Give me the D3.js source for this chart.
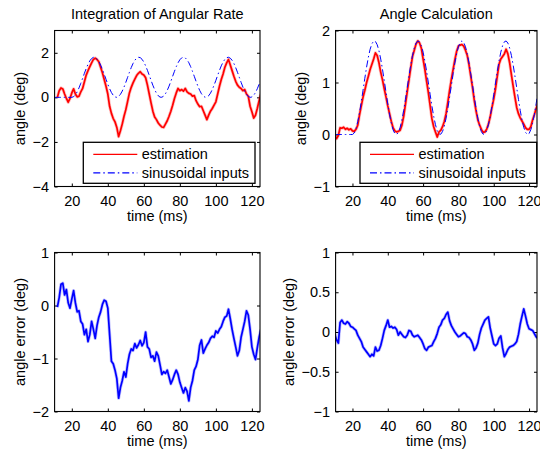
<!DOCTYPE html>
<html>
<head>
<meta charset="utf-8">
<script src="https://cdn.jsdelivr.net/npm/d3@7"></script>
<style>
  body { margin: 0; background: #fff; }
  svg { display: block; font-family: "Liberation Sans", Arial, Helvetica, sans-serif; }
  .tick line { stroke: #000; }
  .tick text { fill: #000; font-size: 14.5px; }
</style>
</head>
<body>
<div id="chart"></div>
<script>
// sample times (ms)
const timeIn = d3.range(10, 126);   // 10 .. 125
const timeL = d3.range(12, 126);    // 12 .. 125
const timeR = d3.range(10, 126);    // 10 .. 125

// sinusoidal input (deg), same in both top panels
const inputDeg = [
  0, 0, 0, 0, 0, 0, 0, 0, 0, 0,
  0, 0.029, 0.113, 0.248, 0.424, 0.631, 0.854, 1.081, 1.296, 1.486,
  1.639, 1.744, 1.795, 1.790, 1.727, 1.612, 1.450, 1.255, 1.036, 0.809,
  0.588, 0.386, 0.217, 0.092, 0.018, 0.001, 0.041, 0.136, 0.279, 0.462,
  0.675, 0.900, 1.125, 1.336, 1.520, 1.664, 1.759, 1.799, 1.782, 1.708,
  1.583, 1.414, 1.212, 0.991, 0.764, 0.545, 0.350, 0.188, 0.073, 0.010,
  0.005, 0.056, 0.161, 0.314, 0.504, 0.719, 0.946, 1.169, 1.376, 1.552,
  1.687, 1.771, 1.800, 1.771, 1.687, 1.552, 1.376, 1.169, 0.946, 0.719,
  0.504, 0.314, 0.161, 0.056, 0.005, 0.010, 0.073, 0.188, 0.350, 0.545,
  0.764, 0.991, 1.212, 1.414, 1.583, 1.708, 1.782, 1.799, 1.759, 1.664,
  1.520, 1.336, 1.125, 0.900, 0.675, 0.462, 0.279, 0.136, 0.041, 0.001,
  0.018, 0.092, 0.217, 0.386, 0.588, 0.809
];

// estimation by integration of angular rate (deg), t = 12..125
const estL = [
  0.00, 0.30, 0.42, 0.38, 0.15, -0.05, -0.22, -0.05,
  0.20, 0.38, 0.15, 0.02, 0.05, 0.25, 0.40, 0.70, 1.00, 1.20,
  1.38, 1.55, 1.70, 1.76, 1.70, 1.60, 1.35, 1.10, 0.80, 0.50,
  0.15, -0.40, -0.72, -0.95, -1.10, -1.35, -1.76, -1.50, -1.20, -0.85,
  -0.55, -0.18, 0.20, 0.45, 0.65, 0.82, 0.98, 1.08, 1.15, 1.05,
  1.00, 0.88, 0.55, 0.15, -0.25, -0.62, -0.88, -1.00, -1.15, -1.25,
  -1.33, -1.35, -1.20, -1.05, -0.85, -0.62, -0.35, -0.05, 0.20, 0.40,
  0.30, 0.35, 0.28, 0.40, 0.25, 0.18, 0.15, 0.05, 0.08, -0.15,
  -0.30, -0.42, -0.40, -0.60, -0.80, -1.00, -0.80, -0.62, -0.50, -0.35,
  -0.20, 0.15, 0.50, 0.80, 1.05, 1.35, 1.55, 1.70, 1.45, 1.20,
  0.95, 0.72, 0.55, 0.45, 0.40, 0.30, 0.35, 0.15, 0.05, -0.40,
  -0.65, -0.93, -0.80, -0.50, -0.15, 0.15
];

// estimation by angle calculation (deg), t = 10..125
const estR = [
  -0.02, -0.08, -0.02, 0.13, 0.12, 0.14, 0.10, 0.12, 0.09, 0.11,
  0.07, 0.06, 0.10, 0.18, 0.38, 0.55, 0.72, 0.85, 1.00, 1.12,
  1.25, 1.35, 1.45, 1.57, 1.52, 1.38, 1.20, 1.05, 0.88, 0.72,
  0.55, 0.40, 0.25, 0.13, 0.07, 0.05, 0.06, 0.08, 0.18, 0.35,
  0.58, 0.82, 1.05, 1.28, 1.50, 1.62, 1.74, 1.80, 1.76, 1.66,
  1.45, 1.25, 1.02, 0.80, 0.55, 0.30, 0.15, 0.05, -0.05, 0.05,
  0.08, 0.15, 0.25, 0.40, 0.62, 0.85, 1.06, 1.25, 1.44, 1.60,
  1.70, 1.72, 1.73, 1.70, 1.62, 1.52, 1.34, 1.12, 0.90, 0.65,
  0.45, 0.28, 0.18, 0.10, 0.04, 0.05, 0.10, 0.20, 0.34, 0.52,
  0.68, 0.88, 1.12, 1.35, 1.45, 1.50, 1.55, 1.64, 1.55, 1.38,
  1.15, 0.93, 0.72, 0.52, 0.40, 0.32, 0.26, 0.20, 0.13, 0.10,
  0.10, 0.15, 0.28, 0.38, 0.50, 0.60
];

// angle error (deg), t = 12..125
const errL = [
  -0.03, 0.15, 0.40, 0.42, 0.20, 0.30, 0.05, -0.05,
  0.12, 0.28, 0.05, -0.12, -0.10, -0.30, -0.35, -0.55, -0.45, -0.68,
  -0.55, -0.30, -0.45, -0.62, -0.38, -0.22, -0.12, 0.02, 0.10, 0.08,
  -0.05, -0.55, -1.05, -1.10, -1.22, -1.38, -1.75, -1.55, -1.42, -1.25,
  -1.35, -1.10, -0.92, -0.82, -0.85, -0.72, -0.80, -0.74, -0.66, -0.76,
  -0.70, -0.50, -0.78, -0.82, -0.98, -0.95, -1.05, -0.88, -0.95, -1.12,
  -1.30, -1.25, -1.28, -1.22, -1.35, -1.48, -1.40, -1.30, -1.22, -1.30,
  -1.45, -1.55, -1.65, -1.55, -1.62, -1.80, -1.55, -1.42, -1.22, -1.15,
  -1.02, -0.75, -0.65, -0.90, -0.82, -0.75, -0.70, -0.62, -0.58, -0.60,
  -0.48, -0.52, -0.45, -0.40, -0.30, -0.22, -0.20, -0.07, -0.25, -0.45,
  -0.62, -0.78, -0.95, -0.85, -0.60, -0.45, -0.30, -0.10, -0.18, -0.45,
  -0.78, -0.92, -1.02, -0.80, -0.60, -0.45
];

// angle error (deg), t = 10..125
const errR = [
  -0.03, -0.10, -0.14, 0.12, 0.15, 0.11, 0.10, 0.13, 0.11, 0.07,
  0.06, 0.04, 0.02, -0.04, -0.08, -0.12, -0.19, -0.22, -0.25, -0.28,
  -0.31, -0.28, -0.30, -0.19, -0.24, -0.23, -0.17, -0.08, 0.02, 0.08,
  0.15, 0.06, 0.07, 0.05, 0.06, 0.03, -0.04, 0.00, -0.03, -0.06,
  -0.07, -0.04, 0.02, 0.01, -0.04, -0.06, -0.05, -0.04, -0.07, -0.10,
  -0.15, -0.21, -0.23, -0.19, -0.18, -0.17, -0.12, -0.08, -0.02, 0.06,
  0.09, 0.15, 0.17, 0.22, 0.25, 0.14, 0.08, 0.04, 0.00, -0.03,
  -0.06, -0.05, -0.03, -0.01, -0.02, -0.06, -0.07, -0.10, -0.15, -0.23,
  -0.20, -0.14, -0.03, 0.05, 0.10, 0.15, 0.17, 0.19, 0.05, -0.05,
  -0.15, -0.17, -0.15, -0.08, -0.05, -0.20, -0.31, -0.27, -0.22, -0.19,
  -0.18, -0.17, -0.15, -0.12, -0.03, 0.10, 0.20, 0.29, 0.20, 0.10,
  0.04, 0.03, 0.02, -0.02, -0.06, -0.08
];

const xTicks = [20, 40, 60, 80, 100, 120];
const yTicksTL = [-4, -2, 0, 2];
const yTicksTR = [-1, 0, 1, 2];
const yTicksBL = [-2, -1, 0, 1];
const yTicksBR = [-1, -0.5, 0, 0.5, 1];
const legendLabels = ["estimation", "sinusoidal inputs"];

const W = 540, H = 453;
const svg = d3.select("#chart").append("svg")
  .attr("width", W).attr("height", H);

const fontSize = 14.5;
const xDomain = [10.45, 124.5];
const fmt = d3.format("~g");

function drawPanel(p, idx) {
  const x = d3.scaleLinear().domain(xDomain).range([p.x0, p.x1]);
  const y = d3.scaleLinear().domain(p.yDomain).range([p.y1, p.y0]);
  const g = svg.append("g");

  const clipId = "clip" + idx;
  svg.append("clipPath").attr("id", clipId)
    .append("rect")
    .attr("x", p.x0).attr("y", p.y0)
    .attr("width", p.x1 - p.x0).attr("height", p.y1 - p.y0);

  // axes with inward ticks on all four sides
  g.append("g")
    .attr("transform", `translate(0,${p.y1})`)
    .call(d3.axisBottom(x).tickValues(xTicks).tickFormat(fmt).tickSize(-3).tickSizeOuter(0).tickPadding(9))
    .call(a => a.select(".domain").remove());
  g.append("g")
    .attr("transform", `translate(0,${p.y0})`)
    .call(d3.axisTop(x).tickValues(xTicks).tickSize(-3).tickSizeOuter(0).tickFormat(""))
    .call(a => a.select(".domain").remove());
  g.append("g")
    .attr("transform", `translate(${p.x0},0)`)
    .call(d3.axisLeft(y).tickValues(p.yTicks).tickFormat(fmt).tickSize(-3).tickSizeOuter(0).tickPadding(5.5))
    .call(a => a.select(".domain").remove());
  g.append("g")
    .attr("transform", `translate(${p.x1},0)`)
    .call(d3.axisRight(y).tickValues(p.yTicks).tickSize(-3).tickSizeOuter(0).tickFormat(""))
    .call(a => a.select(".domain").remove());

  // data lines
  const plot = g.append("g").attr("clip-path", `url(#${clipId})`);
  p.series.forEach(s => {
    const pts = s.t.map((t, i) => [t, s.v[i]]);
    const line = d3.line().x(d => x(d[0])).y(d => y(d[1]));
    if (s.noisy) {
      plot.append("path").datum(pts)
        .attr("d", line)
        .attr("fill", "none")
        .attr("stroke", s.color)
        .attr("stroke-opacity", 0.25)
        .attr("stroke-width", 3.2)
        .attr("stroke-linejoin", "round");
    }
    plot.append("path").datum(pts)
      .attr("d", line)
      .attr("fill", "none")
      .attr("stroke", s.color)
      .attr("stroke-width", s.width)
      .attr("stroke-linejoin", "round")
      .attr("stroke-dasharray", s.dash || null);
  });

  // frame
  g.append("rect")
    .attr("x", p.x0).attr("y", p.y0)
    .attr("width", p.x1 - p.x0).attr("height", p.y1 - p.y0)
    .attr("fill", "none").attr("stroke", "#000").attr("stroke-width", 1.1);

  // title
  if (p.title) {
    g.append("text")
      .attr("x", (p.x0 + p.x1) / 2).attr("y", 18.5)
      .attr("text-anchor", "middle")
      .attr("font-size", fontSize)
      .text(p.title);
  }
  // x label
  g.append("text")
    .attr("x", (p.x0 + p.x1) / 2).attr("y", p.y1 + 34)
    .attr("text-anchor", "middle")
    .attr("font-size", fontSize)
    .text("time (ms)");
  // y label
  g.append("text")
    .attr("transform", `translate(${p.yLabelX},${(p.y0 + p.y1) / 2}) rotate(-90)`)
    .attr("text-anchor", "middle")
    .attr("font-size", fontSize)
    .text(p.yLabel);

  // legend
  if (p.legend) {
    const L = p.legend;
    const lg = g.append("g");
    lg.append("rect")
      .attr("x", L.x).attr("y", L.y).attr("width", L.w).attr("height", 41)
      .attr("fill", "#fff").attr("stroke", "#000").attr("stroke-width", 1.3);
    p.series.forEach((s, i) => {
      const yy = L.y + 12 + i * 18.5;
      lg.append("line")
        .attr("x1", L.x + 10).attr("x2", L.x + 54)
        .attr("y1", yy).attr("y2", yy)
        .attr("stroke", s.color).attr("stroke-width", 1.2)
        .attr("stroke-dasharray", s.dash || null);
      lg.append("text")
        .attr("x", L.x + 58.5).attr("y", yy + 5)
        .attr("font-size", fontSize)
        .text(legendLabels[i]);
    });
  }
}

const red = "#ff0000", blue = "#0000ff";
const dashDot = "7,3,1.5,3";

const panels = [
  {
    x0: 54.6, x1: 260, y0: 30.5, y1: 186.5, yDomain: [-4, 3], yTicks: yTicksTL,
    title: "Integration of Angular Rate", yLabel: "angle (deg)", yLabelX: 24.5,
    legend: {x: 83.3, y: 142.3, w: 171.7},
    series: [
      {t: timeL, v: estL, color: red, width: 1.7, noisy: true},
      {t: timeIn, v: inputDeg, color: blue, width: 1, dash: dashDot}
    ]
  },
  {
    x0: 335.6, x1: 537, y0: 30.5, y1: 186.5, yDomain: [-1, 2], yTicks: yTicksTR,
    title: "Angle Calculation", yLabel: "angle (deg)", yLabelX: 305.5,
    legend: {x: 360, y: 142.3, w: 176.7},
    series: [
      {t: timeR, v: estR, color: red, width: 1.7, noisy: true},
      {t: timeIn, v: inputDeg, color: blue, width: 1, dash: dashDot}
    ]
  },
  {
    x0: 54.6, x1: 260, y0: 252.5, y1: 411.5, yDomain: [-2, 1], yTicks: yTicksBL,
    yLabel: "angle error (deg)", yLabelX: 24.5,
    series: [{t: timeL, v: errL, color: blue, width: 1.7, noisy: true}]
  },
  {
    x0: 335.6, x1: 537, y0: 252.5, y1: 411.5, yDomain: [-1, 1], yTicks: yTicksBR,
    yLabel: "angle error (deg)", yLabelX: 293.5,
    series: [{t: timeR, v: errR, color: blue, width: 1.7, noisy: true}]
  }
];

panels.forEach(drawPanel);
</script>
</body>
</html>
